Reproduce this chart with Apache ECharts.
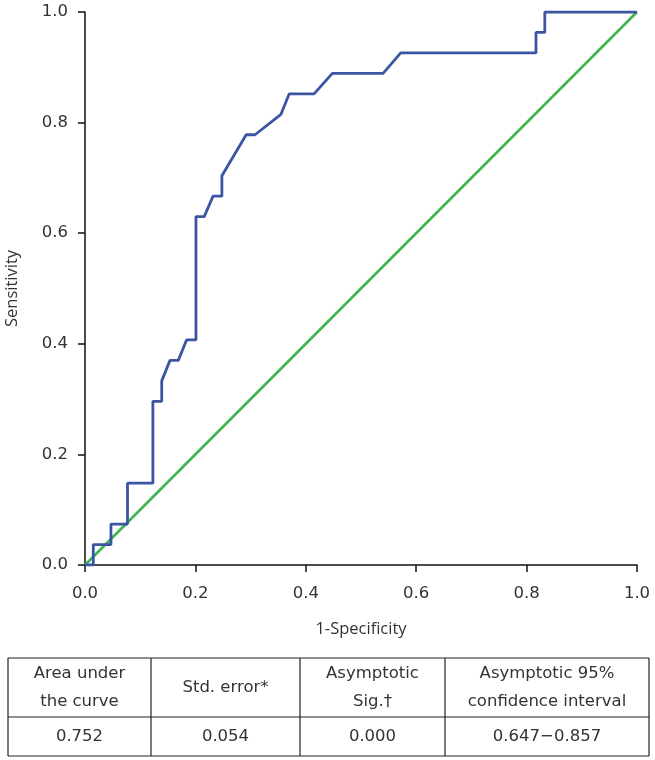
<!DOCTYPE html>
<html>
<head>
<meta charset="utf-8">
<script src="https://cdn.jsdelivr.net/npm/echarts@6/dist/echarts.min.js"></script>
<style>
html,body{margin:0;padding:0;background:#fff;}
#chart{width:655px;height:760px;}
</style>
</head>
<body>
<div id="chart"></div>
<script>
// ROC curve points (1-Specificity, Sensitivity)
const fpr = [0, 0.015, 0.015, 0.047, 0.047, 0.077, 0.077, 0.123, 0.123, 0.139, 0.139, 0.154, 0.169, 0.184, 0.201, 0.201, 0.216, 0.232, 0.248, 0.248, 0.292, 0.308, 0.355, 0.370, 0.415, 0.448, 0.540, 0.572, 0.817, 0.817, 0.833, 0.833, 1.0];
const tpr = [0, 0, 0.037, 0.037, 0.074, 0.074, 0.148, 0.148, 0.296, 0.296, 0.333, 0.370, 0.370, 0.407, 0.407, 0.630, 0.630, 0.667, 0.667, 0.704, 0.778, 0.778, 0.815, 0.852, 0.852, 0.889, 0.889, 0.926, 0.926, 0.963, 0.963, 1.0, 1.0];
// Reference (chance) line
const refX = [0, 1];
const refY = [0, 1];
const xTitle = '1-Specificity';
const yTitle = 'Sensitivity';
// Summary table
const tableHeader = [['Area under', 'the curve'], ['Std. error*'], ['Asymptotic', 'Sig.\u2020'], ['Asymptotic 95%', 'confidence interval']];
const tableRow = ['0.752', '0.054', '0.000', '0.647\u22120.857'];

const chart = echarts.init(document.getElementById('chart'));
const FONT = 'DejaVu Sans';
const TXT = '#333333';

// table layout
const colX = [8, 151, 300, 445, 649];
const rowY = [658, 717, 756];
const g = [];
const ls = {stroke: '#222', lineWidth: 1.2};
rowY.forEach(y => g.push({type: 'line', shape: {x1: colX[0], y1: y, x2: colX[4], y2: y}, style: ls}));
colX.forEach(x => g.push({type: 'line', shape: {x1: x, y1: rowY[0], x2: x, y2: rowY[2]}, style: ls}));
tableHeader.forEach((lines, i) => {
  const cx = (colX[i] + colX[i + 1]) / 2;
  const cy = (rowY[0] + rowY[1]) / 2;
  g.push({type: 'text', x: cx, y: cy, style: {text: lines.join('\n'), x: 0, y: 0, align: 'center', verticalAlign: 'middle', font: '16.5px "' + FONT + '"', fill: TXT, lineHeight: 28}});
});
tableRow.forEach((t, i) => {
  const cx = (colX[i] + colX[i + 1]) / 2;
  const cy = (rowY[1] + rowY[2]) / 2;
  g.push({type: 'text', x: cx, y: cy, style: {text: t, x: 0, y: 0, align: 'center', verticalAlign: 'middle', font: '16.5px "' + FONT + '"', fill: TXT}});
});

const axisCommon = {
  type: 'value', min: 0, max: 1, interval: 0.2,
  axisLine: {show: true, lineStyle: {color: '#111', width: 1.5}},
  axisTick: {show: true, inside: false, length: 7, lineStyle: {color: '#111', width: 1.5}},
  splitLine: {show: false},
  axisLabel: {color: TXT, fontFamily: FONT, fontSize: 16.5, formatter: v => v.toFixed(1)},
  nameTextStyle: {color: TXT, fontFamily: 'Open Sans', fontSize: 16.5}
};

chart.setOption({
  animation: false,
  backgroundColor: '#fff',
  grid: {left: 85, right: 18, top: 12, bottom: 195, containLabel: false, outerBoundsMode: 'none'},
  xAxis: Object.assign({}, axisCommon, {name: xTitle, nameLocation: 'middle', nameGap: 56,
    axisLabel: Object.assign({}, axisCommon.axisLabel, {margin: 20})}),
  yAxis: Object.assign({}, axisCommon, {name: yTitle, nameLocation: 'middle', nameGap: 64,
    axisLabel: Object.assign({}, axisCommon.axisLabel, {margin: 17})}),
  series: [
    {type: 'line', data: refX.map((x, i) => [x, refY[i]]), showSymbol: false, symbol: 'none',
     lineStyle: {color: '#3db54e', width: 2.6}, z: 2},
    {type: 'line', data: fpr.map((x, i) => [x, tpr[i]]), showSymbol: false, symbol: 'none',
     lineStyle: {color: '#3c55a3', width: 2.8}, z: 3}
  ],
  graphic: g
});
</script>
</body>
</html>
